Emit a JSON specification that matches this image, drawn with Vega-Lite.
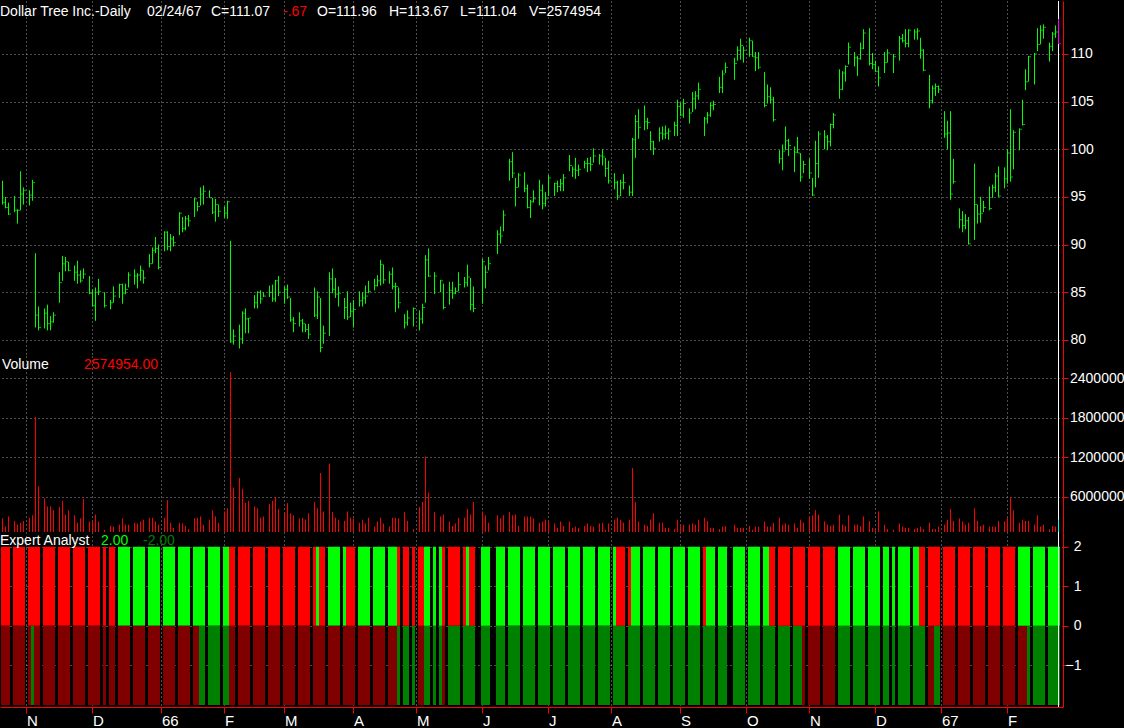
{
"$schema":"https://vega.github.io/schema/vega-lite/v6.json",
"background":"#000000",
"padding":0,
"spacing":0,
"bounds":"flush",
"config":{"view":{"stroke":null},"axis":{"labelFont":"Liberation Sans","labelFontSize":14,"labelColor":"#ffffff","domainColor":"#ff0000","tickColor":"#ff0000","gridColor":"#9a9a9a","gridDash":[1,3],"tickSize":5,"labelOverlap":false}},
"datasets":{
"px":[
{"s":0,"h":96.7,"l":94.2,"c":94.4,"v":2750000},{"s":1,"h":95.0,"l":93.8,"c":93.9,"v":1500000},{"s":2,"h":94.4,"l":93.1,"c":93.2,"v":3030000},
{"s":4,"h":95.1,"l":93.4,"c":93.6,"v":2360000},{"s":5,"h":93.7,"l":92.2,"c":93.6,"v":1790000},{"s":6,"h":97.7,"l":93.6,"c":95.3,"v":2080000},{"s":7,"h":96.0,"l":94.2,"c":95.7,"v":2360000},
{"s":9,"h":95.7,"l":94.1,"c":95.2,"v":2840000},{"s":10,"h":96.8,"l":94.6,"c":96.5,"v":3220000},{"s":11,"h":89.1,"l":81.3,"c":82.6,"v":18100000},{"s":12,"h":83.5,"l":81.0,"c":81.3,"v":7620000},
{"s":14,"h":83.3,"l":81.2,"c":82.8,"v":5800000},{"s":15,"h":83.7,"l":81.0,"c":81.7,"v":4560000},{"s":16,"h":82.5,"l":81.0,"c":81.9,"v":4560000},{"s":17,"h":82.9,"l":81.8,"c":82.6,"v":3990000},
{"s":19,"h":87.1,"l":83.9,"c":86.0,"v":4460000},{"s":20,"h":88.8,"l":86.2,"c":88.0,"v":5420000},{"s":21,"h":88.7,"l":87.2,"c":88.2,"v":3320000},{"s":22,"h":88.2,"l":87.2,"c":87.3,"v":3990000},
{"s":24,"h":87.8,"l":86.2,"c":87.1,"v":3220000},{"s":25,"h":88.3,"l":85.9,"c":86.8,"v":2080000},{"s":26,"h":87.3,"l":86.0,"c":86.2,"v":2750000},{"s":27,"h":87.5,"l":86.4,"c":86.9,"v":5710000},
{"s":29,"h":86.7,"l":84.8,"c":84.9,"v":2270000},{"s":30,"h":85.3,"l":83.5,"c":83.6,"v":2270000},{"s":31,"h":85.5,"l":82.0,"c":85.0,"v":3320000},{"s":32,"h":86.4,"l":84.7,"c":85.1,"v":2270000},
{"s":34,"h":85.0,"l":83.4,"c":83.6,"v":1030000},{"s":36,"h":84.2,"l":83.2,"c":83.9,"v":1600000},{"s":37,"h":85.6,"l":83.9,"c":84.6,"v":1500000},
{"s":39,"h":85.9,"l":84.4,"c":85.8,"v":1790000},{"s":40,"h":85.9,"l":83.8,"c":84.9,"v":2750000},{"s":41,"h":85.9,"l":84.8,"c":85.3,"v":1790000},{"s":42,"h":87.1,"l":85.5,"c":86.8,"v":1790000},
{"s":44,"h":87.4,"l":85.8,"c":86.7,"v":2080000},{"s":45,"h":87.0,"l":85.4,"c":86.8,"v":1980000},{"s":46,"h":87.8,"l":86.2,"c":87.3,"v":2270000},{"s":47,"h":87.3,"l":85.9,"c":86.5,"v":2550000},
{"s":49,"h":89.0,"l":87.6,"c":88.0,"v":2840000},{"s":50,"h":89.7,"l":88.0,"c":89.4,"v":2840000},{"s":51,"h":90.8,"l":89.1,"c":89.6,"v":2270000},{"s":52,"h":90.0,"l":87.4,"c":87.6,"v":1790000},
{"s":54,"h":91.4,"l":89.3,"c":91.3,"v":2840000},{"s":55,"h":91.4,"l":89.4,"c":89.8,"v":5520000},{"s":56,"h":91.1,"l":89.3,"c":90.6,"v":2080000},{"s":57,"h":90.9,"l":89.8,"c":90.2,"v":1310000},
{"s":59,"h":93.4,"l":91.0,"c":93.3,"v":2080000},{"s":60,"h":92.9,"l":91.3,"c":91.7,"v":1980000},{"s":61,"h":93.0,"l":91.5,"c":92.7,"v":1600000},{"s":62,"h":93.1,"l":91.9,"c":92.5,"v":1120000},
{"s":64,"h":94.9,"l":92.9,"c":94.8,"v":2750000},{"s":65,"h":94.5,"l":93.5,"c":94.0,"v":2840000},{"s":66,"h":96.0,"l":94.1,"c":95.3,"v":3030000},{"s":67,"h":96.2,"l":94.2,"c":95.6,"v":1790000},
{"s":69,"h":95.7,"l":94.9,"c":94.9,"v":2550000},{"s":70,"h":94.9,"l":93.2,"c":93.4,"v":3990000},{"s":71,"h":94.8,"l":92.4,"c":94.2,"v":3030000},{"s":72,"h":94.2,"l":92.9,"c":93.5,"v":2080000},
{"s":74,"h":94.0,"l":92.8,"c":93.3,"v":3800000},{"s":75,"h":94.6,"l":92.7,"c":94.5,"v":4270000},{"s":76,"h":90.4,"l":79.7,"c":79.8,"v":24900000},{"s":77,"h":81.1,"l":79.5,"c":80.4,"v":7430000},
{"s":79,"h":81.6,"l":79.1,"c":80.1,"v":8860000},{"s":80,"h":83.0,"l":79.6,"c":82.8,"v":7230000},{"s":81,"h":83.3,"l":80.7,"c":82.2,"v":5130000},{"s":82,"h":82.3,"l":80.7,"c":82.3,"v":5420000},
{"s":84,"h":84.7,"l":83.3,"c":83.9,"v":4560000},{"s":85,"h":85.1,"l":83.3,"c":85.0,"v":4270000},{"s":86,"h":85.2,"l":83.8,"c":84.3,"v":2840000},{"s":87,"h":85.0,"l":84.5,"c":84.6,"v":3030000},
{"s":89,"h":85.7,"l":84.5,"c":85.0,"v":4940000},{"s":90,"h":85.8,"l":84.0,"c":84.3,"v":5420000},{"s":91,"h":86.3,"l":84.0,"c":86.2,"v":5990000},{"s":92,"h":86.7,"l":84.6,"c":85.0,"v":4180000},
{"s":94,"h":85.6,"l":83.8,"c":85.3,"v":3510000},{"s":95,"h":85.8,"l":84.3,"c":84.5,"v":5040000},{"s":96,"h":84.4,"l":81.9,"c":82.1,"v":3510000},{"s":97,"h":82.4,"l":80.8,"c":81.7,"v":3220000},
{"s":99,"h":82.9,"l":81.4,"c":82.0,"v":2750000},{"s":100,"h":82.2,"l":80.8,"c":81.7,"v":2840000},{"s":101,"h":81.7,"l":80.8,"c":81.1,"v":2550000},{"s":102,"h":81.7,"l":80.1,"c":80.6,"v":3510000},
{"s":104,"h":85.5,"l":82.4,"c":82.6,"v":5230000},{"s":105,"h":85.1,"l":82.2,"c":84.5,"v":4270000},{"s":106,"h":84.4,"l":78.7,"c":79.2,"v":9620000},{"s":107,"h":81.5,"l":79.6,"c":80.7,"v":3800000},
{"s":109,"h":87.1,"l":80.4,"c":86.4,"v":11050000},{"s":110,"h":87.5,"l":84.9,"c":85.3,"v":3700000},{"s":111,"h":86.5,"l":84.4,"c":84.8,"v":2840000},{"s":112,"h":85.6,"l":83.5,"c":84.9,"v":2550000},
{"s":114,"h":84.4,"l":82.2,"c":83.4,"v":2360000},{"s":115,"h":85.1,"l":82.1,"c":82.4,"v":3800000},{"s":116,"h":83.9,"l":82.4,"c":83.0,"v":2840000},{"s":117,"h":84.2,"l":81.3,"c":83.2,"v":2750000},
{"s":119,"h":85.1,"l":83.5,"c":84.1,"v":2080000},{"s":120,"h":85.0,"l":83.5,"c":84.4,"v":2550000},{"s":121,"h":85.7,"l":83.8,"c":84.6,"v":1980000},{"s":122,"h":86.2,"l":84.9,"c":85.1,"v":2840000},
{"s":124,"h":86.4,"l":85.2,"c":85.7,"v":1500000},{"s":125,"h":86.8,"l":85.6,"c":86.2,"v":2270000},{"s":126,"h":88.4,"l":85.7,"c":87.9,"v":2840000},{"s":127,"h":87.9,"l":85.9,"c":86.3,"v":1980000},
{"s":129,"h":87.2,"l":85.9,"c":86.9,"v":1500000},{"s":130,"h":87.6,"l":85.3,"c":85.6,"v":2840000},{"s":131,"h":86.0,"l":82.9,"c":85.6,"v":2840000},{"s":132,"h":85.5,"l":83.3,"c":83.9,"v":2750000},
{"s":134,"h":82.7,"l":81.2,"c":81.8,"v":3700000},{"s":135,"h":83.1,"l":81.5,"c":82.3,"v":2360000},{"s":137,"h":83.4,"l":81.4,"c":83.3,"v":1120000},
{"s":139,"h":83.1,"l":81.0,"c":82.2,"v":4460000},{"s":140,"h":83.8,"l":81.7,"c":83.4,"v":5230000},{"s":141,"h":88.9,"l":83.9,"c":88.4,"v":12100000},{"s":142,"h":89.6,"l":86.6,"c":86.7,"v":6660000},
{"s":144,"h":87.1,"l":84.8,"c":86.7,"v":3700000},{"s":146,"h":86.3,"l":85.0,"c":86.2,"v":3030000},{"s":147,"h":85.9,"l":83.2,"c":83.4,"v":3320000},
{"s":149,"h":86.1,"l":83.7,"c":85.2,"v":2270000},{"s":150,"h":86.1,"l":84.3,"c":84.9,"v":1600000},{"s":151,"h":85.5,"l":84.8,"c":85.1,"v":1980000},{"s":152,"h":87.1,"l":85.1,"c":85.8,"v":2840000},
{"s":154,"h":86.6,"l":85.5,"c":86.0,"v":2840000},{"s":155,"h":87.9,"l":85.6,"c":86.6,"v":4180000},{"s":156,"h":86.5,"l":83.1,"c":83.7,"v":3320000},{"s":157,"h":85.6,"l":82.9,"c":83.3,"v":5230000},
{"s":160,"h":88.5,"l":83.8,"c":88.2,"v":3800000},{"s":161,"h":87.8,"l":85.4,"c":87.1,"v":3220000},{"s":162,"h":88.7,"l":87.3,"c":88.0,"v":2080000},
{"s":165,"h":91.5,"l":89.0,"c":91.1,"v":3220000},{"s":166,"h":91.9,"l":90.1,"c":90.9,"v":2750000},{"s":167,"h":93.6,"l":91.4,"c":93.1,"v":3220000},
{"s":169,"h":99.0,"l":96.7,"c":98.7,"v":3700000},{"s":170,"h":99.7,"l":97.0,"c":97.5,"v":3220000},{"s":171,"h":97.0,"l":94.0,"c":96.0,"v":3320000},{"s":172,"h":97.5,"l":96.0,"c":97.3,"v":1600000},
{"s":174,"h":97.6,"l":95.5,"c":95.9,"v":3030000},{"s":175,"h":96.3,"l":93.8,"c":93.9,"v":3030000},{"s":176,"h":94.7,"l":92.8,"c":94.5,"v":3030000},{"s":177,"h":95.7,"l":94.4,"c":94.8,"v":2750000},
{"s":179,"h":96.8,"l":94.1,"c":95.7,"v":2080000},{"s":180,"h":96.3,"l":93.7,"c":94.3,"v":2270000},{"s":181,"h":95.5,"l":94.0,"c":94.8,"v":2550000},{"s":182,"h":97.3,"l":95.1,"c":97.0,"v":2360000},
{"s":184,"h":96.5,"l":95.1,"c":96.4,"v":1980000},{"s":185,"h":96.7,"l":95.5,"c":96.1,"v":1310000},{"s":186,"h":96.9,"l":95.6,"c":96.4,"v":2270000},{"s":187,"h":97.4,"l":95.6,"c":97.0,"v":1600000},
{"s":189,"h":99.4,"l":97.7,"c":98.3,"v":2270000},{"s":190,"h":98.2,"l":97.1,"c":97.9,"v":1310000},{"s":191,"h":99.1,"l":96.9,"c":97.8,"v":1500000},{"s":192,"h":98.4,"l":97.2,"c":97.9,"v":1310000},
{"s":194,"h":98.8,"l":98.0,"c":98.5,"v":1600000},{"s":195,"h":99.1,"l":97.6,"c":98.5,"v":1980000},{"s":196,"h":99.2,"l":97.7,"c":98.4,"v":1600000},{"s":197,"h":100.1,"l":98.6,"c":99.3,"v":1500000},
{"s":199,"h":99.5,"l":98.4,"c":99.3,"v":1980000},{"s":200,"h":100.0,"l":98.3,"c":99.2,"v":2080000},{"s":201,"h":99.1,"l":97.1,"c":98.0,"v":1030000},{"s":202,"h":98.8,"l":96.4,"c":96.7,"v":1980000},
{"s":204,"h":97.5,"l":95.8,"c":96.5,"v":2550000},{"s":205,"h":96.7,"l":94.7,"c":95.1,"v":2840000},{"s":206,"h":96.8,"l":95.1,"c":96.5,"v":2550000},{"s":207,"h":97.4,"l":95.8,"c":96.5,"v":2080000},
{"s":209,"h":96.2,"l":95.1,"c":95.5,"v":2550000},{"s":210,"h":101.2,"l":95.1,"c":101.0,"v":10390000},{"s":211,"h":103.6,"l":99.1,"c":102.9,"v":5230000},{"s":212,"h":104.2,"l":101.1,"c":102.3,"v":2270000},
{"s":214,"h":104.6,"l":102.0,"c":102.9,"v":1790000},{"s":215,"h":103.3,"l":102.1,"c":102.8,"v":1600000},{"s":216,"h":101.9,"l":99.9,"c":100.8,"v":2550000},{"s":217,"h":100.9,"l":99.4,"c":100.1,"v":3510000},
{"s":219,"h":102.3,"l":100.8,"c":101.7,"v":2080000},{"s":220,"h":102.4,"l":101.0,"c":101.6,"v":2080000},{"s":221,"h":102.5,"l":101.1,"c":101.7,"v":1310000},{"s":222,"h":102.2,"l":101.0,"c":101.9,"v":1310000},
{"s":224,"h":102.9,"l":101.4,"c":102.5,"v":1120000},{"s":225,"h":105.2,"l":101.4,"c":104.5,"v":2550000},{"s":226,"h":104.9,"l":103.5,"c":103.6,"v":1600000},{"s":227,"h":105.3,"l":103.3,"c":104.8,"v":1790000},
{"s":229,"h":104.3,"l":102.7,"c":103.8,"v":1790000},{"s":230,"h":106.0,"l":103.9,"c":105.3,"v":1980000},{"s":231,"h":106.1,"l":104.2,"c":105.6,"v":1790000},{"s":232,"h":107.0,"l":105.2,"c":106.3,"v":2550000},
{"s":234,"h":103.4,"l":101.4,"c":103.2,"v":2840000},{"s":235,"h":103.9,"l":102.7,"c":103.6,"v":2360000},{"s":236,"h":104.9,"l":103.4,"c":104.6,"v":1310000},{"s":237,"h":105.1,"l":104.1,"c":104.7,"v":1310000},
{"s":239,"h":107.6,"l":105.9,"c":106.5,"v":1120000},{"s":240,"h":108.3,"l":105.9,"c":107.9,"v":1500000},{"s":241,"h":109.1,"l":108.0,"c":108.6,"v":1600000},
{"s":244,"h":109.6,"l":107.3,"c":109.0,"v":1790000},{"s":245,"h":110.8,"l":109.3,"c":110.4,"v":1310000},{"s":246,"h":111.6,"l":109.4,"c":110.9,"v":1310000},{"s":247,"h":110.8,"l":109.1,"c":110.4,"v":1310000},
{"s":249,"h":111.7,"l":109.7,"c":111.4,"v":1600000},{"s":250,"h":111.4,"l":109.7,"c":109.7,"v":1030000},{"s":251,"h":110.2,"l":108.2,"c":109.6,"v":1500000},{"s":252,"h":110.2,"l":108.4,"c":108.6,"v":1500000},
{"s":254,"h":108.1,"l":104.4,"c":104.6,"v":2270000},{"s":255,"h":106.8,"l":104.8,"c":105.5,"v":1500000},{"s":256,"h":106.5,"l":104.8,"c":105.2,"v":1500000},{"s":257,"h":105.5,"l":102.9,"c":103.1,"v":2080000},
{"s":259,"h":99.9,"l":98.5,"c":99.0,"v":2840000},{"s":260,"h":100.5,"l":97.8,"c":99.8,"v":1790000},{"s":261,"h":102.4,"l":99.9,"c":100.9,"v":1980000},{"s":262,"h":101.1,"l":99.3,"c":100.4,"v":1790000},
{"s":264,"h":100.3,"l":97.6,"c":99.7,"v":1980000},{"s":265,"h":101.3,"l":99.6,"c":99.6,"v":1310000},{"s":266,"h":99.6,"l":96.6,"c":97.1,"v":2550000},{"s":267,"h":98.8,"l":97.5,"c":98.4,"v":2080000},
{"s":269,"h":99.0,"l":96.9,"c":97.5,"v":3030000},{"s":270,"h":97.0,"l":95.1,"c":95.2,"v":3220000},{"s":271,"h":100.9,"l":96.0,"c":98.5,"v":3990000},{"s":272,"h":101.9,"l":97.0,"c":101.6,"v":3320000},
{"s":274,"h":102.0,"l":100.0,"c":101.3,"v":2270000},{"s":275,"h":101.5,"l":99.9,"c":100.8,"v":1790000},{"s":276,"h":102.7,"l":100.3,"c":102.6,"v":1600000},{"s":277,"h":103.8,"l":102.2,"c":103.6,"v":1790000},
{"s":279,"h":108.4,"l":105.3,"c":106.3,"v":3320000},{"s":280,"h":108.2,"l":106.2,"c":108.0,"v":1790000},{"s":281,"h":108.8,"l":107.1,"c":108.7,"v":1600000},{"s":282,"h":111.2,"l":108.9,"c":110.7,"v":3220000},
{"s":284,"h":110.2,"l":108.7,"c":109.6,"v":1790000},{"s":285,"h":109.8,"l":107.7,"c":109.5,"v":1790000},{"s":286,"h":111.2,"l":109.4,"c":110.6,"v":1600000},{"s":287,"h":112.6,"l":110.5,"c":112.2,"v":3030000},
{"s":289,"h":112.7,"l":108.8,"c":109.0,"v":2360000},{"s":290,"h":110.1,"l":108.4,"c":108.9,"v":1310000},{"s":291,"h":109.3,"l":108.1,"c":108.2,"v":1030000},{"s":292,"h":108.7,"l":106.6,"c":107.5,"v":3800000},
{"s":294,"h":110.2,"l":108.0,"c":109.1,"v":1790000},{"s":295,"h":110.5,"l":109.1,"c":110.1,"v":1120000},{"s":297,"h":110.0,"l":108.0,"c":109.7,"v":1030000},
{"s":299,"h":111.9,"l":109.3,"c":111.6,"v":1980000},{"s":300,"h":112.1,"l":111.2,"c":111.4,"v":1500000},{"s":301,"h":112.6,"l":110.7,"c":111.1,"v":1310000},{"s":302,"h":112.6,"l":110.7,"c":112.5,"v":1310000},
{"s":304,"h":112.6,"l":111.5,"c":112.3,"v":1120000},{"s":305,"h":112.7,"l":111.5,"c":112.4,"v":1310000},{"s":306,"h":111.7,"l":109.5,"c":110.4,"v":1500000},{"s":307,"h":110.5,"l":108.2,"c":108.3,"v":1120000},
{"s":309,"h":107.8,"l":104.3,"c":105.1,"v":2080000},{"s":310,"h":106.7,"l":104.8,"c":106.4,"v":1120000},{"s":311,"h":106.9,"l":105.6,"c":106.6,"v":1120000},{"s":312,"h":106.7,"l":105.9,"c":106.3,"v":1500000},
{"s":314,"h":104.0,"l":101.2,"c":101.6,"v":1790000},{"s":315,"h":103.0,"l":100.0,"c":101.7,"v":2550000},{"s":316,"h":104.0,"l":94.7,"c":95.3,"v":4180000},{"s":317,"h":99.0,"l":96.4,"c":96.6,"v":2360000},
{"s":319,"h":93.8,"l":91.7,"c":92.6,"v":2750000},{"s":320,"h":93.5,"l":91.3,"c":92.0,"v":2270000},{"s":321,"h":93.2,"l":91.6,"c":92.5,"v":1790000},{"s":322,"h":92.9,"l":90.0,"c":90.1,"v":2080000},
{"s":324,"h":98.5,"l":90.5,"c":94.2,"v":4270000},{"s":325,"h":94.2,"l":92.2,"c":93.2,"v":2360000},{"s":326,"h":95.0,"l":92.3,"c":93.3,"v":1600000},{"s":327,"h":94.6,"l":93.4,"c":93.9,"v":1790000},
{"s":329,"h":96.1,"l":93.6,"c":93.8,"v":1500000},{"s":330,"h":96.3,"l":94.9,"c":96.0,"v":1500000},{"s":331,"h":97.5,"l":95.5,"c":97.2,"v":1500000},{"s":332,"h":98.2,"l":95.0,"c":95.1,"v":2360000},
{"s":334,"h":98.1,"l":95.9,"c":96.9,"v":2270000},{"s":335,"h":100.0,"l":96.4,"c":99.6,"v":2840000},{"s":336,"h":104.2,"l":96.6,"c":97.1,"v":5990000},{"s":337,"h":102.0,"l":97.9,"c":101.8,"v":3990000},
{"s":339,"h":102.2,"l":99.9,"c":102.1,"v":2080000},{"s":340,"h":105.2,"l":102.5,"c":102.6,"v":2550000},{"s":341,"h":108.4,"l":106.2,"c":107.1,"v":2360000},{"s":342,"h":109.8,"l":107.1,"c":109.7,"v":2360000},
{"s":344,"h":110.1,"l":106.8,"c":110.0,"v":1790000},{"s":345,"h":112.7,"l":110.3,"c":111.0,"v":3220000},{"s":346,"h":113.0,"l":111.0,"c":112.5,"v":1500000},{"s":347,"h":113.1,"l":111.6,"c":112.8,"v":1790000},
{"s":349,"h":111.2,"l":109.2,"c":110.8,"v":1120000},{"s":350,"h":112.3,"l":110.3,"c":112.1,"v":1600000},{"s":351,"h":113.0,"l":111.7,"c":112.3,"v":1500000},{"s":352,"h":113.67,"l":111.04,"c":111.07,"v":2574954}
],
"top":[
{"a":-0.5,"b":2.5,"sig":"sell"},{"a":3.5,"b":7.5,"sig":"sell"},{"a":8.5,"b":12.5,"sig":"sell"},{"a":13.5,"b":17.5,"sig":"sell"},{"a":18.5,"b":22.5,"sig":"sell"},{"a":23.5,"b":27.5,"sig":"sell"},{"a":28.5,"b":32.5,"sig":"sell"},{"a":33.5,"b":34.5,"sig":"sell"},{"a":35.5,"b":37.5,"sig":"sell"},
{"a":38.5,"b":42.5,"sig":"buy"},{"a":43.5,"b":47.5,"sig":"buy"},{"a":48.5,"b":52.5,"sig":"buy"},{"a":53.5,"b":57.5,"sig":"buy"},{"a":58.5,"b":62.5,"sig":"buy"},{"a":63.5,"b":67.5,"sig":"buy"},{"a":68.5,"b":72.5,"sig":"buy"},{"a":73.5,"b":75.5,"sig":"buy"},
{"a":75.5,"b":77.5,"sig":"sell"},{"a":78.5,"b":82.5,"sig":"sell"},{"a":83.5,"b":87.5,"sig":"sell"},{"a":88.5,"b":92.5,"sig":"sell"},{"a":93.5,"b":97.5,"sig":"sell"},{"a":98.5,"b":102.5,"sig":"sell"},{"a":103.5,"b":104.5,"sig":"sell"},{"a":104.5,"b":105.5,"sig":"buy"},{"a":105.5,"b":107.5,"sig":"sell"},
{"a":108.5,"b":112.5,"sig":"buy"},{"a":113.5,"b":114.5,"sig":"buy"},{"a":114.5,"b":117.5,"sig":"sell"},{"a":118.5,"b":122.5,"sig":"buy"},{"a":123.5,"b":127.5,"sig":"buy"},{"a":128.5,"b":131.5,"sig":"buy"},{"a":131.5,"b":132.5,"sig":"sell"},
{"a":133.5,"b":135.5,"sig":"sell"},{"a":136.5,"b":137.5,"sig":"sell"},{"a":138.5,"b":140.5,"sig":"sell"},{"a":140.5,"b":142.5,"sig":"buy"},{"a":143.5,"b":144.5,"sig":"buy"},{"a":145.5,"b":146.5,"sig":"buy"},{"a":146.5,"b":147.5,"sig":"sell"},
{"a":148.5,"b":152.5,"sig":"sell"},{"a":153.5,"b":154.5,"sig":"sell"},{"a":154.5,"b":155.5,"sig":"buy"},{"a":155.5,"b":157.5,"sig":"sell"},{"a":159.5,"b":162.5,"sig":"buy"},{"a":164.5,"b":167.5,"sig":"buy"},
{"a":168.5,"b":172.5,"sig":"buy"},{"a":173.5,"b":177.5,"sig":"buy"},{"a":178.5,"b":182.5,"sig":"buy"},{"a":183.5,"b":187.5,"sig":"buy"},{"a":188.5,"b":192.5,"sig":"buy"},{"a":193.5,"b":197.5,"sig":"buy"},{"a":198.5,"b":202.5,"sig":"buy"},
{"a":203.5,"b":204.5,"sig":"buy"},{"a":204.5,"b":207.5,"sig":"sell"},{"a":208.5,"b":209.5,"sig":"sell"},{"a":209.5,"b":212.5,"sig":"buy"},{"a":213.5,"b":217.5,"sig":"buy"},{"a":218.5,"b":222.5,"sig":"buy"},{"a":223.5,"b":227.5,"sig":"buy"},{"a":228.5,"b":232.5,"sig":"buy"},
{"a":233.5,"b":234.5,"sig":"sell"},{"a":234.5,"b":237.5,"sig":"buy"},{"a":238.5,"b":241.5,"sig":"buy"},{"a":243.5,"b":247.5,"sig":"buy"},{"a":248.5,"b":252.5,"sig":"buy"},{"a":253.5,"b":255.5,"sig":"buy"},{"a":255.5,"b":257.5,"sig":"sell"},
{"a":258.5,"b":262.5,"sig":"sell"},{"a":263.5,"b":267.5,"sig":"sell"},{"a":268.5,"b":272.5,"sig":"sell"},{"a":273.5,"b":277.5,"sig":"sell"},{"a":278.5,"b":282.5,"sig":"buy"},{"a":283.5,"b":287.5,"sig":"buy"},{"a":288.5,"b":292.5,"sig":"buy"},
{"a":293.5,"b":295.5,"sig":"buy"},{"a":296.5,"b":297.5,"sig":"buy"},{"a":298.5,"b":302.5,"sig":"buy"},{"a":303.5,"b":305.5,"sig":"buy"},{"a":305.5,"b":307.5,"sig":"sell"},{"a":308.5,"b":312.5,"sig":"sell"},{"a":313.5,"b":317.5,"sig":"sell"},
{"a":318.5,"b":322.5,"sig":"sell"},{"a":323.5,"b":327.5,"sig":"sell"},{"a":328.5,"b":332.5,"sig":"sell"},{"a":333.5,"b":337.5,"sig":"sell"},{"a":338.5,"b":342.5,"sig":"buy"},{"a":343.5,"b":347.5,"sig":"buy"},{"a":348.5,"b":352.5,"sig":"buy"}
],
"bot":[
{"a":-0.5,"b":2.5,"sig":"sell"},{"a":3.5,"b":7.5,"sig":"sell"},{"a":8.5,"b":9.5,"sig":"sell"},{"a":9.5,"b":10.5,"sig":"buy"},{"a":10.5,"b":12.5,"sig":"sell"},{"a":13.5,"b":17.5,"sig":"sell"},{"a":18.5,"b":22.5,"sig":"sell"},{"a":23.5,"b":27.5,"sig":"sell"},{"a":28.5,"b":32.5,"sig":"sell"},
{"a":33.5,"b":34.5,"sig":"sell"},{"a":35.5,"b":37.5,"sig":"sell"},{"a":38.5,"b":42.5,"sig":"sell"},{"a":43.5,"b":47.5,"sig":"sell"},{"a":48.5,"b":52.5,"sig":"sell"},{"a":53.5,"b":57.5,"sig":"sell"},{"a":58.5,"b":62.5,"sig":"sell"},{"a":63.5,"b":65.5,"sig":"sell"},
{"a":65.5,"b":67.5,"sig":"buy"},{"a":68.5,"b":72.5,"sig":"buy"},{"a":73.5,"b":75.5,"sig":"buy"},{"a":75.5,"b":77.5,"sig":"sell"},{"a":78.5,"b":82.5,"sig":"sell"},{"a":83.5,"b":87.5,"sig":"sell"},{"a":88.5,"b":92.5,"sig":"sell"},{"a":93.5,"b":97.5,"sig":"sell"},
{"a":98.5,"b":102.5,"sig":"sell"},{"a":103.5,"b":107.5,"sig":"sell"},{"a":108.5,"b":112.5,"sig":"sell"},{"a":113.5,"b":117.5,"sig":"sell"},{"a":118.5,"b":122.5,"sig":"sell"},{"a":123.5,"b":127.5,"sig":"sell"},{"a":128.5,"b":131.5,"sig":"sell"},
{"a":131.5,"b":132.5,"sig":"buy"},{"a":133.5,"b":135.5,"sig":"buy"},{"a":136.5,"b":137.5,"sig":"buy"},{"a":138.5,"b":140.5,"sig":"sell"},{"a":140.5,"b":142.5,"sig":"buy"},{"a":143.5,"b":144.5,"sig":"buy"},{"a":145.5,"b":146.5,"sig":"buy"},{"a":146.5,"b":147.5,"sig":"sell"},
{"a":148.5,"b":152.5,"sig":"buy"},{"a":153.5,"b":157.5,"sig":"buy"},{"a":159.5,"b":162.5,"sig":"buy"},{"a":164.5,"b":167.5,"sig":"buy"},{"a":168.5,"b":172.5,"sig":"buy"},{"a":173.5,"b":177.5,"sig":"buy"},{"a":178.5,"b":182.5,"sig":"buy"},
{"a":183.5,"b":187.5,"sig":"buy"},{"a":188.5,"b":192.5,"sig":"buy"},{"a":193.5,"b":197.5,"sig":"buy"},{"a":198.5,"b":202.5,"sig":"buy"},{"a":203.5,"b":207.5,"sig":"buy"},{"a":208.5,"b":212.5,"sig":"buy"},{"a":213.5,"b":217.5,"sig":"buy"},
{"a":218.5,"b":222.5,"sig":"buy"},{"a":223.5,"b":227.5,"sig":"buy"},{"a":228.5,"b":232.5,"sig":"buy"},{"a":233.5,"b":237.5,"sig":"buy"},{"a":238.5,"b":241.5,"sig":"buy"},{"a":243.5,"b":247.5,"sig":"buy"},{"a":248.5,"b":252.5,"sig":"buy"},
{"a":253.5,"b":257.5,"sig":"buy"},{"a":258.5,"b":262.5,"sig":"buy"},{"a":263.5,"b":266.5,"sig":"buy"},{"a":266.5,"b":267.5,"sig":"sell"},{"a":268.5,"b":272.5,"sig":"sell"},{"a":273.5,"b":277.5,"sig":"sell"},{"a":278.5,"b":282.5,"sig":"buy"},
{"a":283.5,"b":287.5,"sig":"buy"},{"a":288.5,"b":292.5,"sig":"buy"},{"a":293.5,"b":295.5,"sig":"buy"},{"a":296.5,"b":297.5,"sig":"buy"},{"a":298.5,"b":302.5,"sig":"buy"},{"a":303.5,"b":307.5,"sig":"buy"},{"a":308.5,"b":310.5,"sig":"sell"},
{"a":310.5,"b":312.5,"sig":"buy"},{"a":313.5,"b":317.5,"sig":"sell"},{"a":318.5,"b":322.5,"sig":"sell"},{"a":323.5,"b":327.5,"sig":"sell"},{"a":328.5,"b":332.5,"sig":"sell"},{"a":333.5,"b":337.5,"sig":"sell"},{"a":338.5,"b":341.5,"sig":"sell"},
{"a":341.5,"b":342.5,"sig":"buy"},{"a":343.5,"b":347.5,"sig":"buy"},{"a":348.5,"b":352.5,"sig":"buy"}
]
},
"vconcat":[
{
"width":1063,"height":355,
"layer":[
{"data":{"values":[{"s":352}]},"mark":{"type":"rule","color":"#ffffff","strokeWidth":1},
 "encoding":{"x":{"field":"s","type":"quantitative","scale":{"domain":[-0.8333,353.5],"nice":false,"zero":false},
   "axis":{"title":null,"values":[8,30,53,74,94,117,138,160,182,203,226,248,269,291,313,335],"grid":true,"labels":false,"ticks":false,"domain":false}}}},
{"data":{"name":"px"},"mark":{"type":"rule","strokeWidth":1},
 "encoding":{"x":{"field":"s","type":"quantitative","title":null},
  "y":{"field":"l","type":"quantitative","title":null,"scale":{"domain":[78.31,115.56],"nice":false,"zero":false},
   "axis":{"title":null,"orient":"right","values":[80,85,90,95,100,105,110],"labelAlign":"left","labelPadding":2,"labelOverlap":false,"grid":true}},
  "y2":{"field":"h"},
  "color":{"condition":{"test":"datum.s == 352","value":"#ff00ff"},"value":"#00ff00"}}},
{"data":{"name":"px"},"mark":{"type":"tick","orient":"horizontal","size":2,"thickness":1,"xOffset":1.5},
 "encoding":{"x":{"field":"s","type":"quantitative","title":null},"y":{"field":"c","type":"quantitative","title":null},
  "color":{"condition":{"test":"datum.s == 352","value":"#ff00ff"},"value":"#00ff00"}}},
{"data":{"values":[{}]},"mark":{"type":"text","align":"left","baseline":"alphabetic","dx":0,"color":"#ffffff","font":"Liberation Sans","fontSize":14},"encoding":{"x":{"datum":-0.8333,"type":"quantitative"},"y":{"datum":114,"type":"quantitative"},"text":{"value":"Dollar Tree Inc.-Daily"}}},
{"data":{"values":[{}]},"mark":{"type":"text","align":"left","baseline":"alphabetic","dx":147,"color":"#ffffff","font":"Liberation Sans","fontSize":14},"encoding":{"x":{"datum":-0.8333,"type":"quantitative"},"y":{"datum":114,"type":"quantitative"},"text":{"value":"02/24/67"}}},
{"data":{"values":[{}]},"mark":{"type":"text","align":"left","baseline":"alphabetic","dx":211,"color":"#ffffff","font":"Liberation Sans","fontSize":14},"encoding":{"x":{"datum":-0.8333,"type":"quantitative"},"y":{"datum":114,"type":"quantitative"},"text":{"value":"C=111.07"}}},
{"data":{"values":[{}]},"mark":{"type":"text","align":"left","baseline":"alphabetic","dx":283,"color":"#ff0000","font":"Liberation Sans","fontSize":14},"encoding":{"x":{"datum":-0.8333,"type":"quantitative"},"y":{"datum":114,"type":"quantitative"},"text":{"value":"-.67"}}},
{"data":{"values":[{}]},"mark":{"type":"text","align":"left","baseline":"alphabetic","dx":317,"color":"#ffffff","font":"Liberation Sans","fontSize":14},"encoding":{"x":{"datum":-0.8333,"type":"quantitative"},"y":{"datum":114,"type":"quantitative"},"text":{"value":"O=111.96"}}},
{"data":{"values":[{}]},"mark":{"type":"text","align":"left","baseline":"alphabetic","dx":389,"color":"#ffffff","font":"Liberation Sans","fontSize":14},"encoding":{"x":{"datum":-0.8333,"type":"quantitative"},"y":{"datum":114,"type":"quantitative"},"text":{"value":"H=113.67"}}},
{"data":{"values":[{}]},"mark":{"type":"text","align":"left","baseline":"alphabetic","dx":460,"color":"#ffffff","font":"Liberation Sans","fontSize":14},"encoding":{"x":{"datum":-0.8333,"type":"quantitative"},"y":{"datum":114,"type":"quantitative"},"text":{"value":"L=111.04"}}},
{"data":{"values":[{}]},"mark":{"type":"text","align":"left","baseline":"alphabetic","dx":529,"color":"#ffffff","font":"Liberation Sans","fontSize":14},"encoding":{"x":{"datum":-0.8333,"type":"quantitative"},"y":{"datum":114,"type":"quantitative"},"text":{"value":"V=2574954"}}}
]
},
{
"width":1063,"height":176,
"layer":[
{"data":{"values":[{"s":352}]},"mark":{"type":"rule","color":"#ffffff","strokeWidth":1},
 "encoding":{"x":{"field":"s","type":"quantitative","scale":{"domain":[-0.8333,353.5],"nice":false,"zero":false},
   "axis":{"title":null,"values":[8,30,53,74,94,117,138,160,182,203,226,248,269,291,313,335],"grid":true,"labels":false,"ticks":false,"domain":false}}}},
{"data":{"name":"px"},"mark":{"type":"rule","strokeWidth":1},
 "encoding":{"x":{"field":"s","type":"quantitative","title":null},
  "y":{"field":"v","type":"quantitative","title":null,"scale":{"domain":[682000,27350000],"nice":false,"zero":false},
   "axis":{"title":null,"orient":"right","values":[6000000,12000000,18000000,24000000],"labelExpr":"datum.value >= 10000000 ? slice(toString(datum.value), 0, 7) : toString(datum.value)","labelAlign":"left","labelPadding":1.5,"labelOverlap":false,"grid":true}},
  "y2":{"datum":682000},
  "color":{"condition":{"test":"datum.s == 352","value":"#00ffff"},"value":"#ff0000"}}},
{"data":{"values":[{}]},"mark":{"type":"text","align":"left","baseline":"alphabetic","dx":2,"color":"#ffffff","font":"Liberation Sans","fontSize":14},"encoding":{"x":{"datum":-0.8333,"type":"quantitative"},"y":{"datum":25380000,"type":"quantitative"},"text":{"value":"Volume"}}},
{"data":{"values":[{}]},"mark":{"type":"text","align":"left","baseline":"alphabetic","dx":84,"color":"#ff0000","font":"Liberation Sans","fontSize":14},"encoding":{"x":{"datum":-0.8333,"type":"quantitative"},"y":{"datum":25380000,"type":"quantitative"},"text":{"value":"2574954.00"}}}
]
},
{
"width":1063,"height":175,
"layer":[
{"data":{"name":"top"},"mark":{"type":"rect"},
 "encoding":{"x":{"field":"a","type":"quantitative","title":null,"scale":{"domain":[-0.8333,353.5],"nice":false,"zero":false},
   "axis":{"title":null,"values":[8,30,53,74,94,117,138,160,182,203,226,248,269,291,313,335],
   "labelExpr":"datum.value == 8 ? 'N' : datum.value == 30 ? 'D' : datum.value == 53 ? '66' : datum.value == 74 ? 'F' : datum.value == 94 ? 'M' : datum.value == 117 ? 'A' : datum.value == 138 ? 'M' : datum.value == 160 ? 'J' : datum.value == 182 ? 'J' : datum.value == 203 ? 'A' : datum.value == 226 ? 'S' : datum.value == 248 ? 'O' : datum.value == 269 ? 'N' : datum.value == 291 ? 'D' : datum.value == 313 ? '67' : 'F'",
   "labelAlign":"left","labelBaseline":"top","labelPadding":0,"labelFontSize":15,"labelOverlap":false,"labelFlush":false,"grid":true,"tickSize":6}},
  "x2":{"field":"b"},
  "y":{"datum":2,"type":"quantitative","scale":{"domain":[-2.0505,2.3715],"nice":false,"zero":false},
   "axis":{"title":null,"orient":"right","values":[-1,0,1,2],"labelAlign":"right","labelPadding":13,"labelOverlap":false,"grid":true}},
  "y2":{"datum":0},
  "color":{"field":"sig","type":"nominal","scale":{"domain":["sell","buy"],"range":["#ff0000","#00ff00"]},"legend":null}}},
{"data":{"name":"bot"},"mark":{"type":"rect"},
 "encoding":{"x":{"field":"a","type":"quantitative","title":null},"x2":{"field":"b"},
  "y":{"datum":0,"type":"quantitative"},"y2":{"datum":-2},
  "color":{"field":"sig","type":"nominal","scale":{"domain":["sell","buy"],"range":["#800000","#008000"]},"legend":null}}},
{"data":{"values":[{"s":352}]},"mark":{"type":"rule","color":"#ffffff","strokeWidth":1},
 "encoding":{"x":{"field":"s","type":"quantitative","title":null}}},
{"data":{"values":[{}]},"mark":{"type":"text","align":"left","baseline":"alphabetic","dx":0,"color":"#ffffff","font":"Liberation Sans","fontSize":14},"encoding":{"x":{"datum":-0.8333,"type":"quantitative"},"y":{"datum":2.043,"type":"quantitative"},"text":{"value":"Expert Analyst"}}},
{"data":{"values":[{}]},"mark":{"type":"text","align":"left","baseline":"alphabetic","dx":101,"color":"#00ff00","font":"Liberation Sans","fontSize":14},"encoding":{"x":{"datum":-0.8333,"type":"quantitative"},"y":{"datum":2.043,"type":"quantitative"},"text":{"value":"2.00"}}},
{"data":{"values":[{}]},"mark":{"type":"text","align":"left","baseline":"alphabetic","dx":143,"color":"#008000","font":"Liberation Sans","fontSize":14},"encoding":{"x":{"datum":-0.8333,"type":"quantitative"},"y":{"datum":2.043,"type":"quantitative"},"text":{"value":"-2.00"}}}
],
"resolve":{"scale":{"color":"independent"}}
}
]
}
